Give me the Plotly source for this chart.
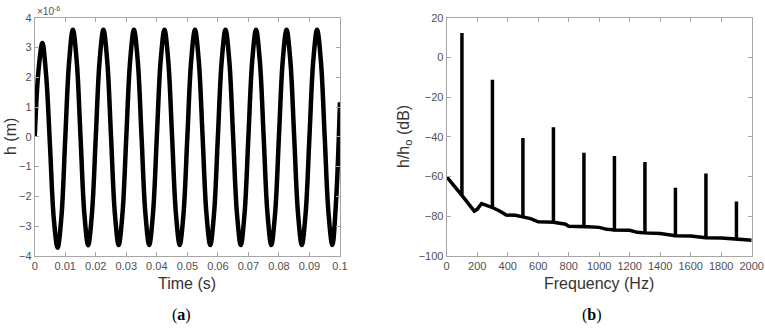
import plotly.graph_objects as go
from plotly.subplots import make_subplots

# ---- Panel (a): displacement vs time (values read at 1/8-period steps) ----
time_s = [
    0.0, 0.00125, 0.0025, 0.00375, 0.005, 0.00625, 0.0075, 0.00875,
    0.01, 0.01125, 0.0125, 0.01375, 0.015, 0.01625, 0.0175, 0.01875,
    0.02, 0.02125, 0.0225, 0.02375, 0.025, 0.02625, 0.0275, 0.02875,
    0.03, 0.03125, 0.0325, 0.03375, 0.035, 0.03625, 0.0375, 0.03875,
    0.04, 0.04125, 0.0425, 0.04375, 0.045, 0.04625, 0.0475, 0.04875,
    0.05, 0.05125, 0.0525, 0.05375, 0.055, 0.05625, 0.0575, 0.05875,
    0.06, 0.06125, 0.0625, 0.06375, 0.065, 0.06625, 0.0675, 0.06875,
    0.07, 0.07125, 0.0725, 0.07375, 0.075, 0.07625, 0.0775, 0.07875,
    0.08, 0.08125, 0.0825, 0.08375, 0.085, 0.08625, 0.0875, 0.08875,
    0.09, 0.09125, 0.0925, 0.09375, 0.095, 0.09625, 0.0975, 0.09875,
    0.1,
]
h_micro_m = [
    0.0, 2.25, 3.15, 2.05, -0.3, -2.75, -3.72, -2.68,
    -0.05, 2.5, 3.6, 2.55, 0.0, -2.57, -3.64, -2.57,
    0.0, 2.55, 3.6, 2.55, 0.0, -2.57, -3.63, -2.57,
    0.0, 2.55, 3.6, 2.55, 0.0, -2.57, -3.63, -2.57,
    0.0, 2.55, 3.6, 2.55, 0.0, -2.57, -3.63, -2.57,
    0.0, 2.55, 3.6, 2.55, 0.0, -2.57, -3.63, -2.57,
    0.0, 2.55, 3.6, 2.55, 0.0, -2.57, -3.63, -2.57,
    0.0, 2.55, 3.6, 2.55, 0.0, -2.57, -3.63, -2.57,
    0.0, 2.55, 3.6, 2.55, 0.0, -2.57, -3.63, -2.57,
    0.0, 2.55, 3.6, 2.55, 0.0, -2.57, -3.63, -2.1,
    1.16,
]
time_ticks = [0, 0.01, 0.02, 0.03, 0.04, 0.05, 0.06, 0.07, 0.08, 0.09, 0.1]
time_tick_labels = ["0", "0.01", "0.02", "0.03", "0.04", "0.05", "0.06",
                    "0.07", "0.08", "0.09", "0.1"]
h_ticks = [-4, -3, -2, -1, 0, 1, 2, 3, 4]

# ---- Panel (b): spectrum ----
floor_freq = [0, 100, 181, 200, 229, 300, 350, 390, 450, 500, 550, 600, 700,
              780, 800, 900, 1000, 1050, 1100, 1200, 1250, 1300, 1400, 1500,
              1600, 1700, 1800, 1900, 2000]
floor_db = [-60.1, -69.5, -77.4, -76.5, -73.6, -75.6, -77.5, -79.4, -79.5,
            -80.3, -81.2, -82.8, -83.0, -84.0, -85.0, -85.2, -85.6, -86.6,
            -86.9, -87.1, -88.1, -88.4, -88.7, -89.8, -90.0, -90.8, -91.0,
            -91.5, -92.1]
peak_freq = [100, 300, 500, 700, 900, 1100, 1300, 1500, 1700, 1900]
peak_db = [12.3, -11.2, -40.6, -35.2, -48.0, -49.6, -52.7, -65.6, -58.5, -72.5]
freq_ticks = [0, 200, 400, 600, 800, 1000, 1200, 1400, 1600, 1800, 2000]
db_ticks = [-100, -80, -60, -40, -20, 0, 20]

# Spectrum line: floor with a one-bin spike at each harmonic
spec_f, spec_db = [], []
pi = 0
for j, (f, d) in enumerate(zip(floor_freq, floor_db)):
    while pi < len(peak_freq) and peak_freq[pi] <= f:
        pf = peak_freq[pi]
        if pf == f:
            base = d
        else:
            f0, d0 = floor_freq[j - 1], floor_db[j - 1]
            base = d0 + (d - d0) * (pf - f0) / (f - f0)
        spec_f += [pf, pf, pf]
        spec_db += [base, peak_db[pi], base]
        pi += 1
    spec_f.append(f)
    spec_db.append(d)

fig = make_subplots(rows=1, cols=2)

fig.add_trace(go.Scatter(x=time_s, y=h_micro_m, mode="lines",
                         line=dict(color="black", width=4.5, shape="spline", smoothing=1.0),
                         showlegend=False, hoverinfo="skip"), row=1, col=1)
fig.add_trace(go.Scatter(x=spec_f, y=spec_db, mode="lines",
                         line=dict(color="black", width=3.5),
                         showlegend=False, hoverinfo="skip"), row=1, col=2)

axis_line = "#a6a6a6"
tick_font = dict(family="Liberation Sans, Arial, sans-serif", size=11, color="#505050")
common = dict(showline=True, linecolor=axis_line, linewidth=1, mirror="ticks",
              ticks="inside", ticklen=4, tickcolor=axis_line, showgrid=False,
              zeroline=False, tickfont=tick_font, automargin=False, tickangle=0)

ydom = [0.222, 0.946]
fig.update_xaxes(range=[0, 0.1], tickmode="array", tickvals=time_ticks,
                 ticktext=time_tick_labels, domain=[0.0454, 0.4444], **common, row=1, col=1)
fig.update_yaxes(range=[-4, 4], tickmode="array", tickvals=h_ticks,
                 domain=ydom, **common, row=1, col=1)
fig.update_xaxes(range=[0, 2000], tickmode="array", tickvals=freq_ticks,
                 domain=[0.5839, 0.9826], **common, row=1, col=2)
fig.update_yaxes(range=[-100, 20], tickmode="array", tickvals=db_ticks,
                 domain=ydom, **common, row=1, col=2)

title_font = dict(family="Liberation Sans, Arial, sans-serif", size=16, color="#333333")
cap_font = dict(family="Liberation Serif, DejaVu Serif, serif", size=16, color="black")

ann = [
    dict(text="Time (s)", x=187, y=283, font=title_font),
    dict(text="Frequency (Hz)", x=599, y=283, font=title_font),
    dict(text="h (m)", x=11, y=137, font=title_font, textangle=-90),
    dict(text="h/h<sub>o</sub> (dB)", x=405, y=137, font=title_font, textangle=-90),
    dict(text="(<b>a</b>)", x=181, y=315, font=cap_font),
    dict(text="(<b>b</b>)", x=592, y=315, font=cap_font),
]
for a in ann:
    fig.add_annotation(text=a["text"], x=a["x"] / 765, y=1 - a["y"] / 329,
                       xref="paper", yref="paper", showarrow=False,
                       xanchor="center", yanchor="middle", font=a["font"],
                       textangle=a.get("textangle", 0))
fig.add_annotation(text="×10<sup>-6</sup>", x=35 / 765, y=1 - 11 / 329,
                   xref="paper", yref="paper", showarrow=False,
                   xanchor="left", yanchor="middle",
                   font=dict(family="Liberation Sans, Arial, sans-serif", size=10, color="#505050"))

fig.update_layout(width=765, height=329, margin=dict(l=0, r=0, t=0, b=0),
                  paper_bgcolor="white", plot_bgcolor="white", hovermode=False)

fig.write_html("out.html", config={"displayModeBar": False, "staticPlot": True},
               post_script="document.body.style.margin='0';document.body.style.overflow='hidden';")
